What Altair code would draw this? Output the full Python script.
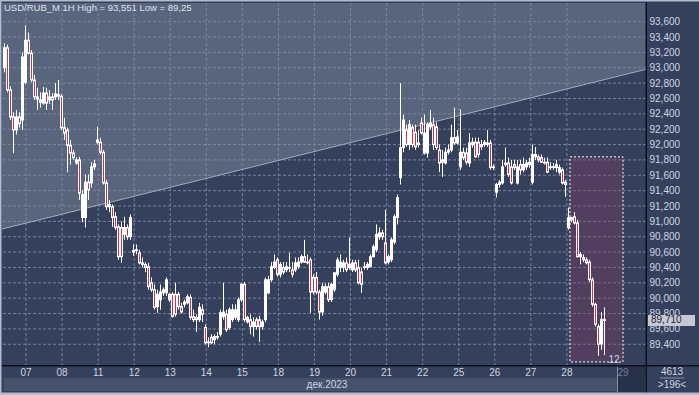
import altair as alt
import pandas as pd

# ---------------- data ----------------
opens = [93.00, 93.26, 92.71, 92.36, 92.19, 92.36, 92.32, 92.81, 93.36, 93.19,
 92.84, 92.62, 92.58, 92.54, 92.67, 92.58, 92.62, 92.62, 92.65, 92.63,
 92.22, 92.19, 91.99, 91.89, 91.76, 91.80, 91.05, 91.05, 91.51, 91.50,
 91.71, 92.03, 92.03, 91.90, 91.50, 91.22, 91.19, 91.06, 90.93, 90.92,
 90.83, 90.92, 90.80, 90.62, 90.63, 90.59, 90.46, 90.44, 90.41, 90.20,
 90.11, 89.89, 89.98, 90.07, 90.07, 89.98, 90.05, 90.05, 90.05, 89.89,
 89.92, 89.94, 90.01, 89.76, 89.75, 89.72, 89.85, 89.62, 89.43, 89.49,
 89.46, 89.49, 89.53, 89.76, 89.79, 89.62, 89.72, 89.75, 89.72, 89.98,
 90.18, 89.69, 89.72, 89.63, 89.72, 89.72, 89.63, 89.72, 90.07, 90.24,
 90.40, 90.50, 90.31, 90.40, 90.37, 90.40, 90.37, 90.37, 90.41, 90.47,
 90.54, 90.47, 90.50, 90.27, 90.27, 90.08, 89.82, 90.08, 90.15, 89.98,
 90.11, 90.31, 90.40, 90.40, 90.46, 90.40, 90.37, 90.46, 90.40, 90.34,
 90.40, 90.40, 90.41, 90.54, 90.63, 90.80, 90.85, 90.72, 90.47, 90.50,
 90.73, 91.05, 91.57, 91.96, 92.19, 92.00, 92.22, 92.16, 92.00, 92.28,
 91.89, 91.89, 92.23, 92.26, 92.23, 91.93, 91.80, 91.76, 91.90, 91.93,
 92.09, 92.02, 91.71, 91.90, 91.89, 91.76, 92.00, 92.03, 92.03, 92.00,
 92.00, 92.00, 92.02, 91.70, 91.38, 91.48, 91.50, 91.74, 91.76, 91.71,
 91.74, 91.50, 91.74, 91.67, 91.71, 91.74, 91.51, 91.84, 91.84, 91.83,
 91.77, 91.77, 91.71, 91.71, 91.70, 91.64, 91.67, 91.51, 90.92, 91.02,
 91.06, 90.98, 90.57, 90.53, 90.50, 90.47, 90.24, 89.92, 89.63, 89.40,
 89.72]

highs = [93.32, 93.30, 92.76, 92.42, 92.45, 92.42, 93.20, 93.551, 93.46, 93.23,
 92.91, 92.74, 92.68, 92.75, 92.74, 92.71, 92.67, 92.80, 92.84, 92.66,
 92.35, 92.22, 92.06, 91.93, 91.83, 91.84, 91.41, 91.61, 91.61, 91.77,
 91.80, 92.23, 92.09, 91.93, 91.54, 91.28, 91.22, 91.12, 90.96, 91.00,
 91.06, 90.96, 91.09, 90.70, 90.70, 90.63, 90.53, 90.47, 90.46, 90.27,
 90.18, 90.11, 90.18, 90.14, 90.27, 90.07, 90.08, 90.20, 90.08, 89.94,
 89.98, 90.05, 90.05, 89.85, 89.79, 89.94, 89.92, 89.66, 89.49, 89.53,
 89.53, 89.56, 89.85, 90.20, 89.85, 89.88, 89.92, 89.92, 90.01, 90.20,
 90.21, 89.77, 89.79, 89.75, 89.75, 89.77, 89.72, 90.27, 90.29, 90.47,
 90.57, 90.53, 90.47, 90.47, 90.47, 90.59, 90.47, 90.53, 90.53, 90.57,
 90.76, 90.57, 90.53, 90.31, 90.34, 90.11, 90.20, 90.19, 90.20, 90.20,
 90.34, 90.53, 90.57, 90.50, 90.53, 90.79, 90.50, 90.50, 90.50, 90.40,
 90.47, 90.47, 90.57, 90.70, 90.96, 90.92, 90.89, 91.15, 90.57, 90.79,
 91.09, 91.35, 92.80, 92.39, 92.26, 92.32, 92.26, 92.26, 92.19, 92.35,
 92.39, 92.29, 92.45, 92.35, 92.29, 92.00, 91.93, 91.96, 92.00, 92.26,
 92.48, 92.19, 92.46, 91.96, 91.96, 92.15, 92.09, 92.09, 92.09, 92.06,
 92.06, 92.19, 92.06, 91.74, 91.50, 91.54, 91.80, 91.96, 91.83, 91.80,
 91.80, 91.80, 91.80, 91.83, 91.80, 91.83, 92.00, 91.97, 91.87, 91.87,
 91.83, 91.83, 91.77, 91.76, 91.80, 91.74, 91.70, 91.54, 91.18, 91.06,
 91.12, 91.02, 90.60, 90.57, 90.53, 90.50, 90.27, 89.94, 89.66, 89.82,
 89.88]

lows = [92.94, 92.68, 92.32, 91.89, 92.13, 92.22, 92.19, 92.79, 93.17, 92.81,
 92.58, 92.45, 92.48, 92.52, 92.45, 92.53, 92.45, 92.58, 92.58, 92.19,
 92.06, 91.64, 91.74, 91.80, 91.74, 91.28, 90.99, 90.92, 91.28, 91.44,
 91.67, 92.00, 91.87, 91.48, 91.15, 91.12, 90.93, 90.89, 90.50, 90.46,
 90.76, 90.76, 90.76, 90.55, 90.57, 90.44, 90.40, 90.34, 90.11, 90.08,
 89.85, 89.81, 89.85, 90.03, 90.03, 89.95, 89.75, 89.76, 89.85, 89.80,
 89.88, 89.92, 89.72, 89.69, 89.56, 89.69, 89.69, 89.40, 89.36, 89.40,
 89.40, 89.46, 89.50, 89.72, 89.56, 89.59, 89.69, 89.72, 89.69, 89.95,
 89.69, 89.67, 89.53, 89.50, 89.59, 89.43, 89.59, 89.69, 90.05, 90.21,
 90.38, 90.28, 90.27, 90.31, 90.34, 90.34, 90.27, 90.34, 90.38, 90.45,
 90.46, 90.44, 89.81, 90.05, 90.05, 89.72, 89.77, 90.05, 89.95, 89.95,
 90.08, 90.28, 90.34, 90.34, 90.34, 90.37, 90.34, 90.34, 90.18, 90.07,
 90.37, 90.37, 90.40, 90.53, 90.60, 90.76, 90.76, 90.44, 90.44, 90.47,
 90.70, 90.96, 91.48, 91.90, 91.97, 91.93, 91.96, 91.93, 91.96, 92.13,
 91.87, 91.83, 92.19, 91.93, 91.93, 91.64, 91.58, 91.74, 91.87, 91.90,
 92.00, 92.00, 91.67, 91.80, 91.74, 91.71, 91.96, 91.83, 91.83, 91.93,
 91.97, 91.97, 91.67, 91.67, 91.31, 91.44, 91.48, 91.71, 91.58, 91.48,
 91.67, 91.48, 91.61, 91.64, 91.67, 91.70, 91.48, 91.80, 91.77, 91.76,
 91.74, 91.63, 91.67, 91.67, 91.64, 91.61, 91.48, 91.32, 90.89, 90.99,
 90.96, 90.53, 90.44, 90.47, 90.44, 90.21, 89.89, 89.63, 89.25, 89.33,
 89.26]

closes = [93.26, 92.71, 92.36, 92.19, 92.36, 92.27, 93.14, 93.36, 93.19, 92.84,
 92.62, 92.59, 92.55, 92.67, 92.54, 92.62, 92.58, 92.66, 92.63, 92.22,
 92.15, 91.99, 91.89, 91.83, 91.80, 91.37, 91.35, 91.51, 91.41, 91.71,
 91.75, 92.06, 91.90, 91.50, 91.19, 91.19, 91.05, 90.92, 90.54, 90.54,
 90.92, 90.80, 91.05, 90.60, 90.62, 90.46, 90.44, 90.40, 90.15, 90.11,
 89.88, 90.05, 90.08, 90.11, 90.24, 90.05, 89.76, 89.79, 89.89, 89.82,
 89.95, 90.02, 89.75, 89.72, 89.72, 89.88, 89.79, 89.42, 89.42, 89.42,
 89.50, 89.50, 89.81, 89.82, 89.59, 89.85, 89.85, 89.85, 89.98, 90.18,
 89.72, 89.75, 89.63, 89.69, 89.63, 89.63, 89.69, 90.24, 90.24, 90.41,
 90.47, 90.31, 90.44, 90.34, 90.41, 90.39, 90.31, 90.46, 90.47, 90.54,
 90.47, 90.46, 90.08, 90.08, 90.08, 89.82, 90.15, 90.15, 89.98, 90.18,
 90.33, 90.50, 90.47, 90.46, 90.37, 90.44, 90.46, 90.37, 90.20, 90.18,
 90.41, 90.44, 90.54, 90.67, 90.83, 90.85, 90.80, 90.46, 90.54, 90.76,
 91.06, 91.31, 91.96, 92.32, 92.00, 92.26, 92.00, 91.97, 92.02, 92.15,
 92.15, 92.26, 92.28, 92.00, 91.96, 91.76, 91.77, 91.90, 91.93, 92.09,
 92.02, 92.10, 91.90, 91.83, 91.77, 92.02, 92.03, 91.84, 91.87, 91.97,
 92.03, 92.02, 91.70, 91.71, 91.48, 91.51, 91.71, 91.76, 91.61, 91.50,
 91.70, 91.71, 91.67, 91.74, 91.76, 91.77, 91.87, 91.87, 91.80, 91.77,
 91.76, 91.64, 91.70, 91.70, 91.74, 91.70, 91.50, 91.48, 91.05, 91.05,
 90.98, 90.54, 90.54, 90.50, 90.46, 90.24, 89.92, 89.66, 89.40, 89.72,
 89.71]

day_labels = ["07", "08", "11", "12", "13", "14", "15", "18", "19", "20",
              "21", "22", "25", "26", "27", "28"]
price_ticks = [89.4, 89.6, 89.8, 90.0, 90.2, 90.4, 90.6, 90.8, 91.0, 91.2, 91.4,
               91.6, 91.8, 92.0, 92.2, 92.4, 92.6, 92.8, 93.0, 93.2, 93.4, 93.6]
trend_prices = [90.90, 92.98]
zone_prices = [91.84, 89.17]
last_price = 89.71
title_text = "USD/RUB_M 1H High = 93,551 Low = 89,25"

# ---------------- layout constants ----------------
X_DOM = [-0.833, 213.83]
Y_DOM = [89.13, 93.843]
FIRST_DAY_BAR = 7.17
BARS_PER_DAY = 12.02
ZONE_BARS = [188.5, 206.17]
CURSOR_BAR = 206.17

FONT = "Liberation Sans"
DARK = "#35415c"
LIGHT = "#59647d"
GRID = "#7f8ca8"
TXT = "#cdd4e2"
RED = "#c8334a"

df = pd.DataFrame({"bar": list(range(len(opens))), "open": opens, "high": highs,
                   "low": lows, "close": closes})
df["hi"] = df[["open", "close"]].max(axis=1)
df["lo"] = df[["open", "close"]].min(axis=1)
df["down"] = (df["close"] < df["open"]) & ((df["open"] - df["close"]) >= 0.03)

xs = alt.Scale(domain=X_DOM, nice=False, zero=False, padding=0)
ys = alt.Scale(domain=Y_DOM, nice=False, zero=False, padding=0)
yaxis = alt.Axis(values=price_ticks, orient="right",
                 labelExpr="replace(format(datum.value, '.3f'), '.', ',')",
                 ticks=False, domain=False, grid=False, title=None,
                 labelColor=TXT, labelFont=FONT, labelFontSize=10,
                 labelPadding=3, labelOverlap=False)


def X(f):
    return alt.X(f, type="quantitative", scale=xs, axis=None)


def Y(f):
    return alt.Y(f, type="quantitative", scale=ys, axis=yaxis)


df_tr = pd.DataFrame({"bar": X_DOM, "price": trend_prices, "top": [Y_DOM[1]] * 2})
df_days = pd.DataFrame({"bar": [FIRST_DAY_BAR + k * BARS_PER_DAY for k in range(len(day_labels))],
                        "label": day_labels})
df_ticks = pd.DataFrame({"p": price_ticks})
df_zone = pd.DataFrame({"b1": [ZONE_BARS[0]], "b2": [ZONE_BARS[1]],
                        "p1": [zone_prices[0]], "p2": [zone_prices[1]]})
df_last = pd.DataFrame({"p": [last_price], "t": ["89,710"]})

area = alt.Chart(df_tr).mark_area(color=LIGHT, clip=True).encode(
    x=X("bar"), y=Y("price"), y2="top")
hgrid = alt.Chart(df_ticks).mark_rule(color=GRID, strokeDash=[3, 2], strokeWidth=1,
                                      opacity=0.85).encode(y=Y("p"))
vgrid = alt.Chart(df_days).mark_rule(color=GRID, strokeDash=[3, 2], strokeWidth=1,
                                     opacity=0.85).encode(x=X("bar"))
trend = alt.Chart(df_tr).mark_line(color="#a3abbb", strokeWidth=1).encode(
    x=X("bar"), y=Y("price"))
zone = alt.Chart(df_zone).mark_rect(fill="#8a3a60", fillOpacity=0.35, stroke="white",
                                    strokeDash=[2, 2], strokeWidth=1).encode(
    x=X("b1"), x2="b2", y=Y("p1"), y2="p2")
wicks = alt.Chart(df).mark_rule(color="white", strokeWidth=1).encode(
    x=X("bar"), y=Y("low"), y2="high")
bodies = alt.Chart(df).mark_bar(size=3, color="white", yOffset=-0.5, y2Offset=0.5).encode(
    x=X("bar"), y=Y("hi"), y2="lo")
reds = alt.Chart(df).transform_filter("datum.down").mark_bar(
    size=1, color=RED, yOffset=1, y2Offset=-1).encode(x=X("bar"), y=Y("hi"), y2="lo")


def vrect(x1, x2, y1, y2, color):
    return alt.Chart(pd.DataFrame({"a": [0]})).mark_rect(color=color).encode(
        x=alt.value(x1), x2=alt.value(x2), y=alt.value(y1), y2=alt.value(y2))


def vtext(txt, x, y, color=TXT, size=10, align="center"):
    return alt.Chart(pd.DataFrame({"t": [txt]})).mark_text(
        font=FONT, fontSize=size, color=color, align=align, baseline="middle").encode(
        x=alt.value(x), y=alt.value(y), text="t")


panels = [
    vrect(2, 644, 375, 388, "#46526c"),
    vrect(615, 643, 363, 389, "#27324a"),
    vrect(615, 616, 363, 389, "#7f8ca4"),
    vrect(-2, 697, 362, 363.5, "#0c1018"),
    vrect(643.5, 645, -1, 392, "#0c1018"),
    vrect(-2, -0.5, -3, 392, "#b4bccb"),
    vrect(-2, 697, -3, -1.5, "#b4bccb"),
    vrect(-2, 697, 389.5, 392, "#b4bccb"),
    vrect(658, 682, 374.5, 375.5, "#8895ab"),
]

xlabels = alt.Chart(df_days).mark_text(font=FONT, fontSize=10, color=TXT,
                                       baseline="middle").encode(
    x=X("bar"), y=alt.value(370), text="label")
cursor_lbl = alt.Chart(pd.DataFrame({"bar": [CURSOR_BAR], "t": ["29"]})).mark_text(
    font=FONT, fontSize=10, color="#6f7d95", baseline="middle").encode(
    x=X("bar"), y=alt.value(370), text="t")

texts = [
    vtext(title_text, 2, 5, color="#dde3ee", size=9.5, align="left"),
    vtext("дек.2023", 325, 382),
    vtext("12", 612, 357),
    vtext("4613", 670, 369),
    vtext(">196<", 670, 382),
]

tag = alt.Chart(df_last).mark_rect(color="#c4c9d2", yOffset=-5.5, y2Offset=5.5).encode(
    x=alt.value(646), x2=alt.value(693), y=Y("p"), y2="p")
tag_txt = alt.Chart(df_last).mark_text(font=FONT, fontSize=10, color="#1c2433",
                                       align="left", baseline="middle").encode(
    x=alt.value(649), y=Y("p"), text="t")

chart = alt.layer(
    area, hgrid, vgrid, trend, zone, wicks, bodies, reds,
    *panels, xlabels, cursor_lbl, *texts, tag, tag_txt
).properties(
    width=644, height=362,
    padding={"left": 2, "top": 3, "right": 53, "bottom": 30},
    autosize=alt.AutoSizeParams(type="none"),
    background=DARK,
).configure_view(fill=DARK, stroke=None)

chart.save("out.html", embed_options={"renderer": "svg", "actions": False})
